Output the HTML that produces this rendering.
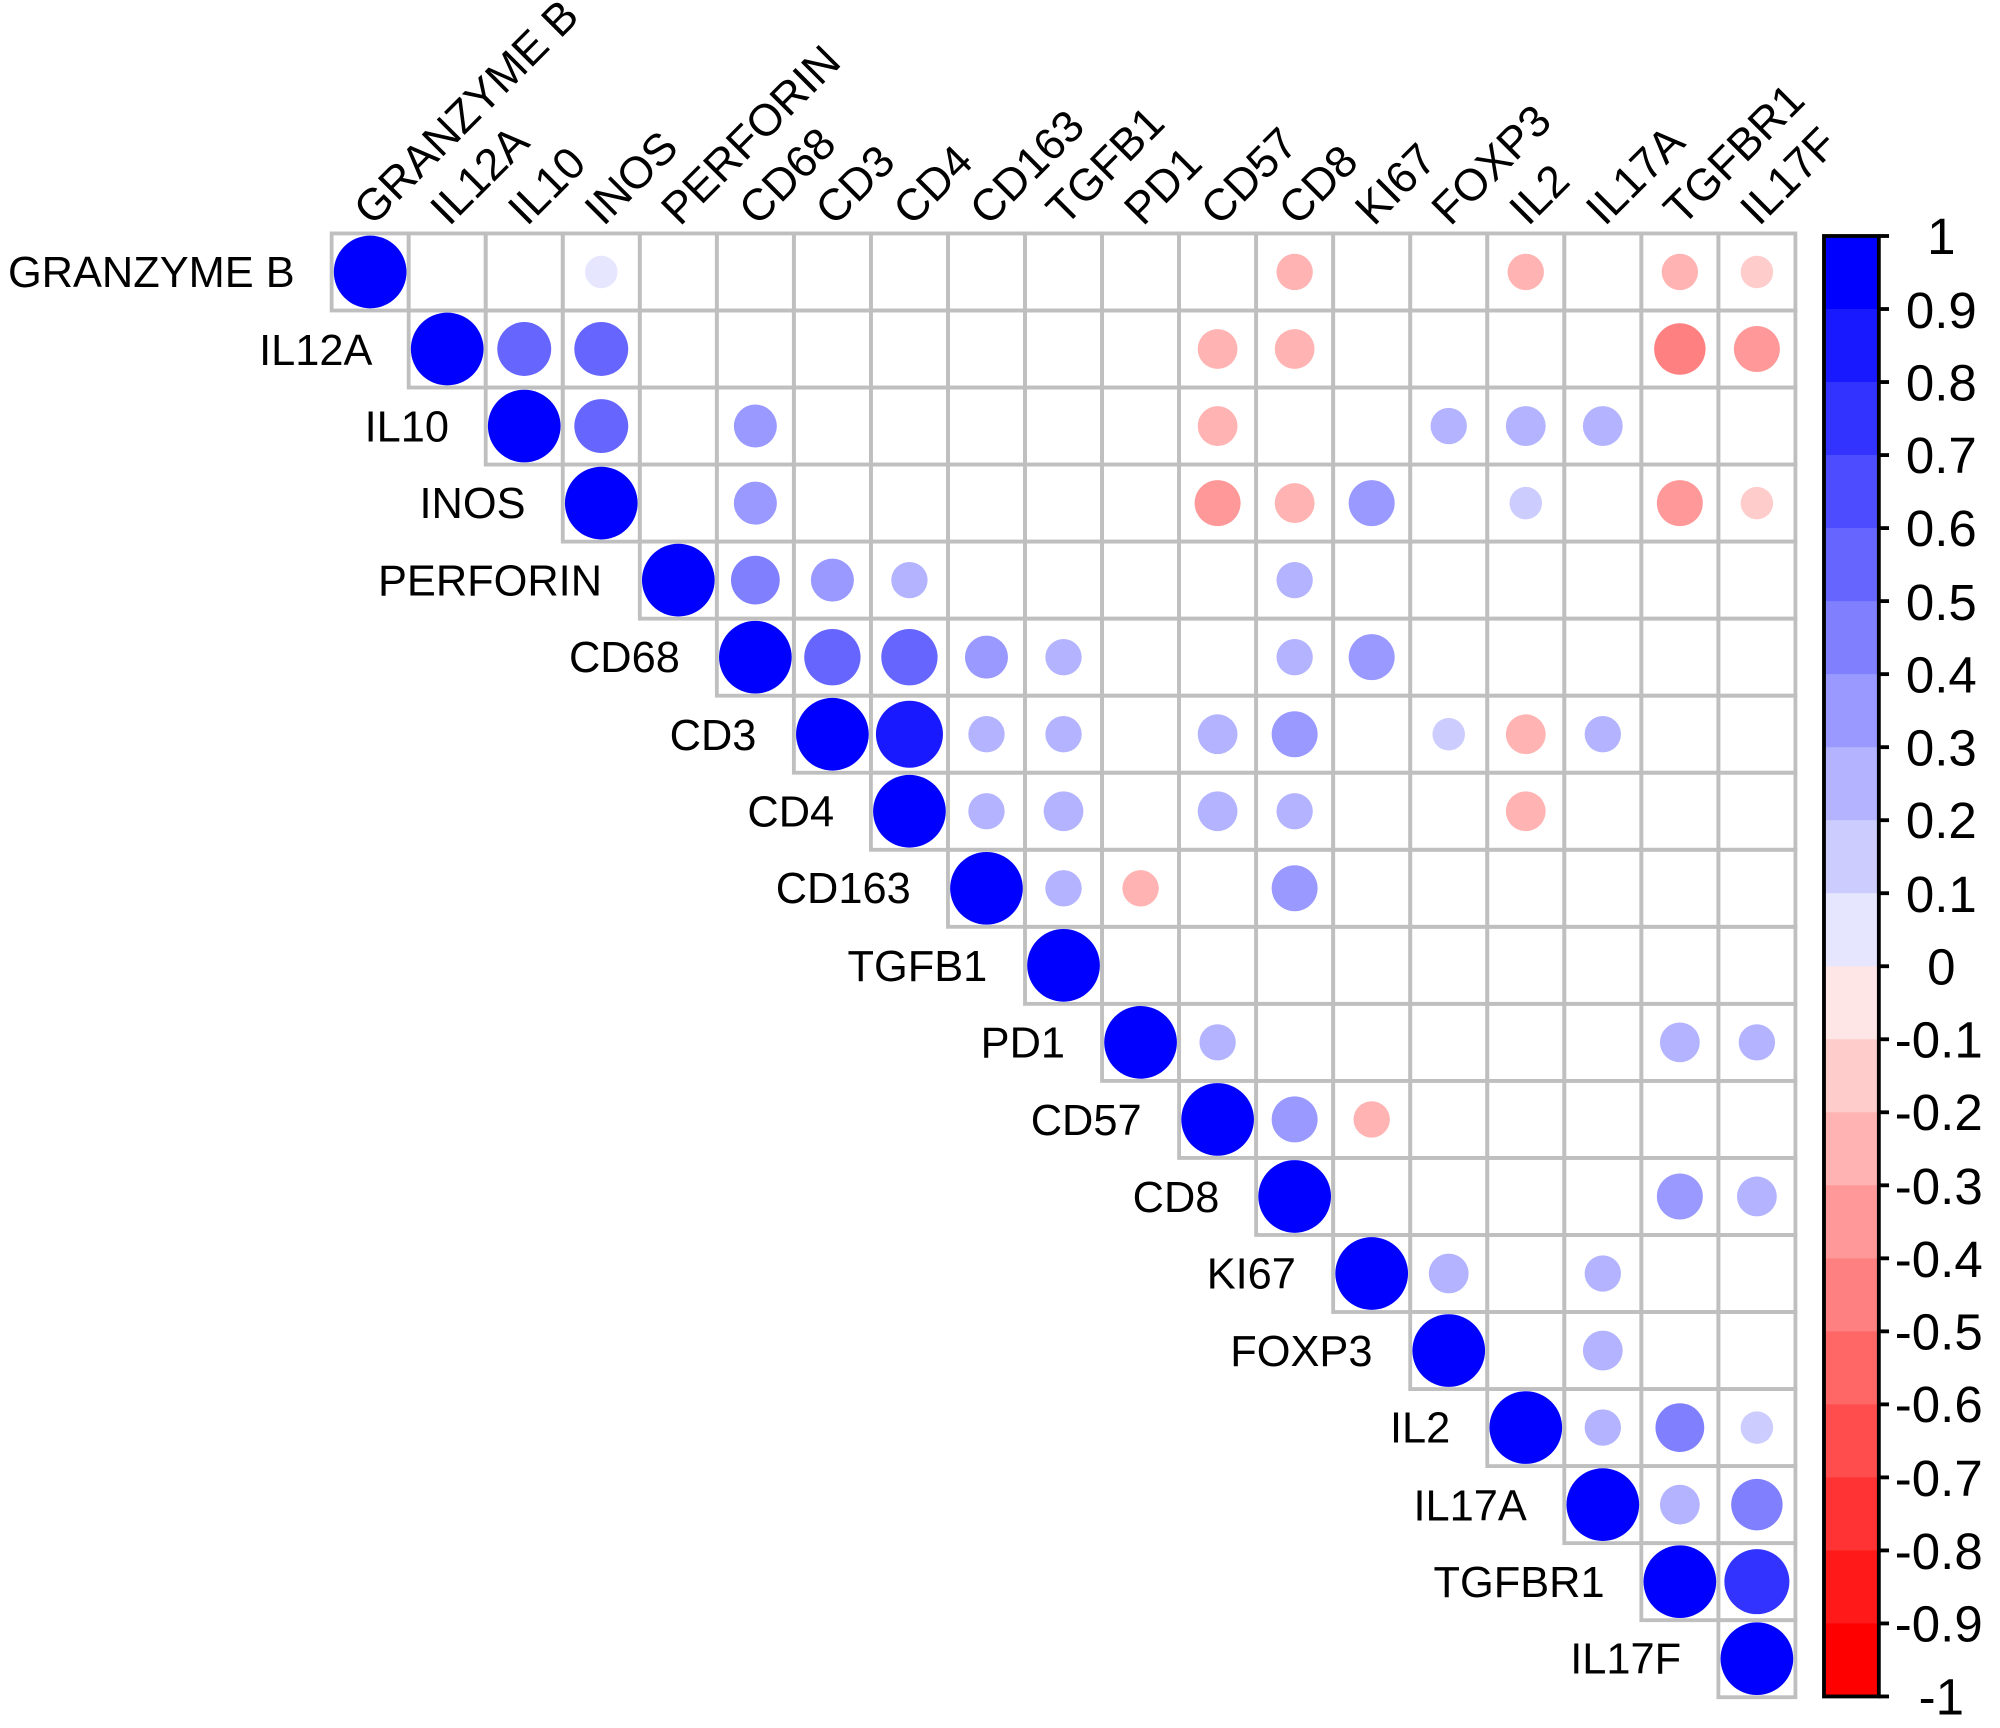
<!DOCTYPE html>
<html><head><meta charset="utf-8"><style>
html,body{margin:0;padding:0;background:#fff;}
svg{display:block;}
text{font-family:"Liberation Sans",Arial,sans-serif;fill:#000;}
</style></head><body>
<svg id="s" width="2000" height="1728" viewBox="0 0 1568 1354.7" xmlns="http://www.w3.org/2000/svg">
<g id="grid"></g>
<g id="circ"></g>
<g id="cb"></g>
<g font-size="34" text-anchor="end">
<text x="231" y="225">GRANZYME B</text>
<text x="292" y="286">IL12A</text>
<text x="352" y="346">IL10</text>
<text x="412" y="406">INOS</text>
<text x="472" y="467">PERFORIN</text>
<text x="533" y="527">CD68</text>
<text x="593" y="588">CD3</text>
<text x="654" y="648">CD4</text>
<text x="714" y="708">CD163</text>
<text x="774" y="769">TGFB1</text>
<text x="835" y="829">PD1</text>
<text x="895" y="890">CD57</text>
<text x="956" y="950">CD8</text>
<text x="1016" y="1010">KI67</text>
<text x="1076" y="1071">FOXP3</text>
<text x="1137" y="1131">IL2</text>
<text x="1197" y="1192">IL17A</text>
<text x="1258" y="1252">TGFBR1</text>
<text x="1318" y="1312">IL17F</text>
</g>
<g font-size="35">
<text transform="translate(292,178) rotate(-45)">GRANZYME B</text>
<text transform="translate(352,178) rotate(-45)">IL12A</text>
<text transform="translate(413,178) rotate(-45)">IL10</text>
<text transform="translate(473,178) rotate(-45)">INOS</text>
<text transform="translate(533,178) rotate(-45)">PERFORIN</text>
<text transform="translate(594,178) rotate(-45)">CD68</text>
<text transform="translate(654,178) rotate(-45)">CD3</text>
<text transform="translate(715,178) rotate(-45)">CD4</text>
<text transform="translate(775,178) rotate(-45)">CD163</text>
<text transform="translate(835,178) rotate(-45)">TGFB1</text>
<text transform="translate(896,178) rotate(-45)">PD1</text>
<text transform="translate(956,178) rotate(-45)">CD57</text>
<text transform="translate(1017,178) rotate(-45)">CD8</text>
<text transform="translate(1077,178) rotate(-45)">KI67</text>
<text transform="translate(1137,178) rotate(-45)">FOXP3</text>
<text transform="translate(1198,178) rotate(-45)">IL2</text>
<text transform="translate(1258,178) rotate(-45)">IL17A</text>
<text transform="translate(1319,178) rotate(-45)">TGFBR1</text>
<text transform="translate(1379,178) rotate(-45)">IL17F</text>
</g>
<g font-size="40" text-anchor="middle">
<text x="1522" y="199">1</text>
<text x="1522" y="257">0.9</text>
<text x="1522" y="314">0.8</text>
<text x="1522" y="371">0.7</text>
<text x="1522" y="428">0.6</text>
<text x="1522" y="486">0.5</text>
<text x="1522" y="543">0.4</text>
<text x="1522" y="600">0.3</text>
<text x="1522" y="657">0.2</text>
<text x="1522" y="715">0.1</text>
<text x="1522" y="772">0</text>
<text x="1520" y="829">-0.1</text>
<text x="1520" y="886">-0.2</text>
<text x="1520" y="944">-0.3</text>
<text x="1520" y="1001">-0.4</text>
<text x="1520" y="1058">-0.5</text>
<text x="1520" y="1115">-0.6</text>
<text x="1520" y="1173">-0.7</text>
<text x="1520" y="1230">-0.8</text>
<text x="1520" y="1287">-0.9</text>
<text x="1522" y="1344">-1</text>
</g>
</svg>
<script>
var NS="http://www.w3.org/2000/svg";
function el(p,t,a){var e=document.createElementNS(NS,t);for(var k in a)e.setAttribute(k,a[k]);p.appendChild(e);return e;}
var X0=260,Y0=183,C=60.4,N=19;
var g=document.getElementById("grid");
for(var i=0;i<N;i++)for(var j=i;j<N;j++){
 el(g,"rect",{x:X0+j*C,y:Y0+i*C,width:C,height:C,fill:"none",stroke:"#bfbfbf","stroke-width":3});
}
function col(v){var a=Math.min(1,Math.ceil(Math.abs(v)*10-1e-9)/10);var w=Math.round(255*(1-a));
 return v>=0?"rgb("+w+","+w+",255)":"rgb(255,"+w+","+w+")";}
var d=[
[0,3,.1],[0,12,-.25],[0,15,-.25],[0,17,-.25],[0,18,-.15],
[1,2,.55],[1,3,.55],[1,11,-.3],[1,12,-.3],[1,17,-.5],[1,18,-.4],
[2,3,.55],[2,5,.35],[2,11,-.3],[2,14,.25],[2,15,.3],[2,16,.3],
[3,5,.35],[3,11,-.4],[3,12,-.3],[3,13,.4],[3,15,.15],[3,17,-.4],[3,18,-.15],
[4,5,.45],[4,6,.35],[4,7,.25],[4,12,.25],
[5,6,.6],[5,7,.6],[5,8,.35],[5,9,.25],[5,12,.25],[5,13,.4],
[6,7,.85],[6,8,.25],[6,9,.25],[6,11,.3],[6,12,.4],[6,14,.15],[6,15,-.3],[6,16,.25],
[7,8,.25],[7,9,.3],[7,11,.3],[7,12,.25],[7,15,-.3],
[8,9,.25],[8,10,-.25],[8,12,.4],
[10,11,.25],[10,17,.3],[10,18,.25],
[11,12,.4],[11,13,-.25],
[12,17,.4],[12,18,.3],
[13,14,.3],[13,16,.25],
[14,16,.3],
[15,16,.25],[15,17,.45],[15,18,.15],
[16,17,.3],[16,18,.5],
[17,18,.8]];
for(var i=0;i<N;i++)d.push([i,i,1]);
var cg=document.getElementById("circ");
d.forEach(function(q){var r=28.5*Math.sqrt(Math.max(0.2,Math.abs(q[2])));
 el(cg,"circle",{cx:X0+q[1]*C+C/2,cy:Y0+q[0]*C+C/2,r:r,fill:col(q[2])});});
var cb=document.getElementById("cb");
var T=185,B=1330,h=(B-T)/20;
for(var k=0;k<20;k++){var v=1-(k+0.5)/10;el(cb,"rect",{x:1430,y:T+k*h,width:43,height:h+0.5,fill:col(v)});}
el(cb,"rect",{x:1430,y:T,width:43,height:B-T,fill:"none",stroke:"#000","stroke-width":3});
for(var k=0;k<=20;k++)el(cb,"line",{x1:1473,x2:1481,y1:T+k*h,y2:T+k*h,stroke:"#000","stroke-width":3});
</script>
</body></html>
